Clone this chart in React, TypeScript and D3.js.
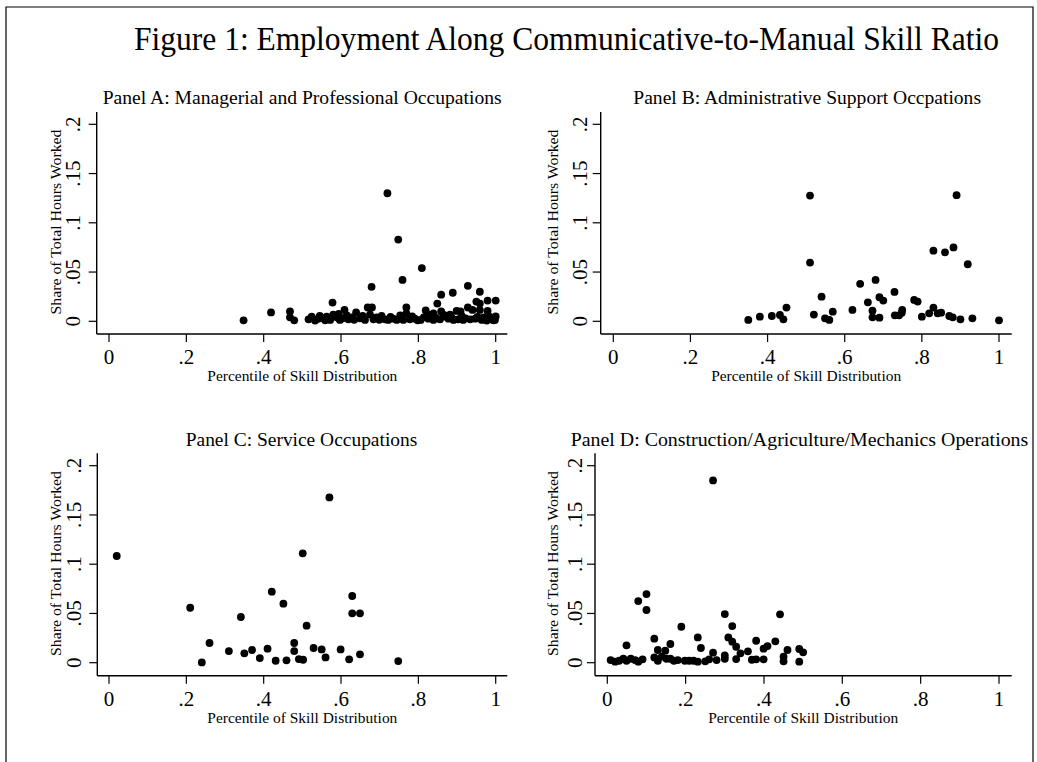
import React from "react";
import * as d3 from "d3";

const FIG_TITLE = "Figure 1: Employment Along Communicative-to-Manual Skill Ratio";
const X_TITLE = "Percentile of Skill Distribution";
const Y_TITLE = "Share of Total Hours Worked";
const X_TICKS = [0, 0.2, 0.4, 0.6, 0.8, 1];
const X_TICK_LABELS = ["0", ".2", ".4", ".6", ".8", "1"];
const Y_TICKS = [0, 0.05, 0.1, 0.15, 0.2];
const Y_TICK_LABELS = ["0", ".05", ".1", ".15", ".2"];

const PANEL_TITLES = [
  "Panel A: Managerial and Professional Occupations",
  "Panel B: Administrative Support Occpations",
  "Panel C: Service Occupations",
  "Panel D: Construction/Agriculture/Mechanics Operations",
];

// Panel A: [percentile, share]
const panelA: [number, number][] = [
  [0.348, 0.001], [0.419, 0.009], [0.468, 0.010], [0.468, 0.004], [0.479, 0.001],
  [0.516, 0.002], [0.524, 0.0047], [0.533, 0.0007], [0.541, 0.0027], [0.553, 0.0034],
  [0.563, 0.0047], [0.572, 0.0014], [0.58, 0.0068], [0.589, 0.004], [0.597, 0.0014],
  [0.578, 0.019], [0.609, 0.0115], [0.615, 0.006], [0.619, 0.002], [0.628, 0.004],
  [0.639, 0.009], [0.649, 0.003], [0.662, 0.0014], [0.669, 0.014], [0.675, 0.0068],
  [0.68, 0.014], [0.679, 0.035], [0.692, 0.004], [0.705, 0.0054], [0.714, 0.002],
  [0.72, 0.130], [0.722, 0.0014], [0.735, 0.0027], [0.744, 0.0014], [0.748, 0.083],
  [0.753, 0.006], [0.759, 0.042], [0.761, 0.0014], [0.769, 0.014], [0.769, 0.008],
  [0.778, 0.002], [0.791, 0.0027], [0.806, 0.0014], [0.809, 0.054], [0.819, 0.011],
  [0.826, 0.0027], [0.828, 0.0065], [0.839, 0.008], [0.839, 0.0014], [0.849, 0.018],
  [0.856, 0.002], [0.859, 0.027], [0.859, 0.010], [0.866, 0.0065], [0.878, 0.0027],
  [0.882, 0.0068], [0.889, 0.029], [0.891, 0.0014], [0.899, 0.0105], [0.903, 0.002],
  [0.909, 0.010], [0.916, 0.0014], [0.928, 0.036], [0.928, 0.014], [0.934, 0.002],
  [0.94, 0.0115], [0.947, 0.0027], [0.95, 0.020], [0.959, 0.030], [0.959, 0.018],
  [0.959, 0.0115], [0.964, 0.0014], [0.977, 0.0007], [0.979, 0.021], [0.979, 0.0105],
  [0.99, 0.002], [0.998, 0.0014], [1.0, 0.021], [1.0, 0.005],
  [0.545, 0.0055], [0.559, 0.001], [0.594, 0.0075], [0.604, 0.003], [0.634, 0.0015],
  [0.656, 0.0055], [0.684, 0.002], [0.699, 0.0015], [0.728, 0.0045], [0.784, 0.005],
  [0.798, 0.001], [0.814, 0.004], [0.832, 0.0045], [0.846, 0.0035], [0.871, 0.0045],
  [0.886, 0.004], [0.912, 0.0055], [0.922, 0.003], [0.953, 0.0045], [0.969, 0.004],
  [0.985, 0.0045], [0.994, 0.001],
];

const panelB: [number, number][] = [
  [0.35, 0.0014], [0.38, 0.0047], [0.411, 0.0054], [0.432, 0.0064], [0.441, 0.002],
  [0.449, 0.0139], [0.51, 0.1276], [0.51, 0.0596], [0.52, 0.0068], [0.54, 0.025],
  [0.549, 0.003], [0.56, 0.0014], [0.569, 0.0098], [0.62, 0.0115], [0.64, 0.038],
  [0.66, 0.0193], [0.672, 0.0108], [0.672, 0.004], [0.68, 0.042], [0.69, 0.0244],
  [0.70, 0.021], [0.69, 0.0037], [0.729, 0.0298], [0.73, 0.0061], [0.741, 0.0061],
  [0.749, 0.0115], [0.748, 0.0088], [0.78, 0.0217], [0.789, 0.02], [0.80, 0.0047],
  [0.819, 0.0081], [0.83, 0.0139], [0.83, 0.0717], [0.841, 0.0081], [0.85, 0.0088],
  [0.86, 0.07], [0.871, 0.0054], [0.88, 0.004], [0.882, 0.075], [0.89, 0.128],
  [0.90, 0.002], [0.919, 0.0579], [0.931, 0.003], [1.0, 0.001],
];

const panelC: [number, number][] = [
  [0.02, 0.1083], [0.21, 0.0558], [0.24, 0.0003], [0.26, 0.02], [0.31, 0.0118],
  [0.341, 0.0464], [0.35, 0.0095], [0.37, 0.0129], [0.39, 0.0047], [0.41, 0.0142],
  [0.421, 0.0721], [0.431, 0.002], [0.451, 0.0599], [0.459, 0.0024], [0.479, 0.02],
  [0.479, 0.0118], [0.491, 0.0037], [0.502, 0.003], [0.501, 0.111], [0.511, 0.0376],
  [0.529, 0.0149], [0.55, 0.0135], [0.56, 0.0054], [0.57, 0.1678], [0.599, 0.0135],
  [0.621, 0.0034], [0.629, 0.0677], [0.629, 0.0501], [0.649, 0.0501], [0.649, 0.0085],
  [0.748, 0.0017],
];

const panelD: [number, number][] = [
  [0.0085, 0.0027], [0.02, 0.001], [0.03, 0.002], [0.041, 0.004], [0.049, 0.002],
  [0.049, 0.0176], [0.06, 0.004], [0.071, 0.0027], [0.079, 0.001], [0.079, 0.0626],
  [0.09, 0.0034], [0.10, 0.0697], [0.10, 0.0535], [0.12, 0.0244], [0.12, 0.0054],
  [0.129, 0.0129], [0.129, 0.002], [0.139, 0.0061], [0.148, 0.0122], [0.151, 0.004],
  [0.161, 0.019], [0.161, 0.004], [0.17, 0.002], [0.18, 0.0027], [0.189, 0.0365],
  [0.198, 0.002], [0.209, 0.002], [0.22, 0.002], [0.231, 0.0257], [0.231, 0.001],
  [0.239, 0.0149], [0.25, 0.0014], [0.26, 0.0034], [0.27, 0.1851], [0.27, 0.0102],
  [0.279, 0.0027], [0.30, 0.0494], [0.30, 0.0074], [0.30, 0.004], [0.309, 0.0257],
  [0.319, 0.0372], [0.319, 0.0213], [0.329, 0.0162], [0.329, 0.0037], [0.34, 0.0095],
  [0.359, 0.0115], [0.369, 0.003], [0.38, 0.0223], [0.38, 0.0034], [0.399, 0.0034],
  [0.399, 0.0142], [0.409, 0.0169], [0.429, 0.0217], [0.441, 0.0491], [0.45, 0.0061],
  [0.45, 0.0014], [0.46, 0.0129], [0.49, 0.0139], [0.49, 0.001], [0.50, 0.0105],
];

const PANEL_DATA = [panelA, panelB, panelC, panelD];

// Layout (pixels)
const LAYOUTS = [
  { x0: 109, x1: 495.7, yAxisX: 96.7, xEnd: 507.3, y0: 321.3, y2: 124.3, xAxisY: 334, yTop: 112, tickLabX: 73, yTitleX: 55, titleX0: 102.7, titleX1: 501.7, titleY: 104, xTitleY: 381 },
  { x0: 613.3, x1: 999, yAxisX: 600.7, xEnd: 1011.7, y0: 321.3, y2: 124.3, xAxisY: 334, yTop: 112, tickLabX: 580, yTitleX: 552.3, titleX0: 633.3, titleX1: 981, titleY: 104, xTitleY: 381 },
  { x0: 109, x1: 495.7, yAxisX: 97.3, xEnd: 507.3, y0: 662.7, y2: 465.7, xAxisY: 675.7, yTop: 453.3, tickLabX: 74, yTitleX: 55, titleX0: 185.7, titleX1: 417.3, titleY: 446, xTitleY: 722.5 },
  { x0: 607.3, x1: 999, yAxisX: 595, xEnd: 1011.7, y0: 662.7, y2: 465.7, xAxisY: 675.7, yTop: 453.3, tickLabX: 575, yTitleX: 552.3, titleX0: 570.7, titleX1: 1028.3, titleY: 446, xTitleY: 722.5 },
];

const FONT = "'Liberation Serif', 'Times New Roman', serif";
const INK = "#000";

function Panel({ idx }: { idx: number }) {
  const L = LAYOUTS[idx];
  const data = PANEL_DATA[idx];
  const x = d3.scaleLinear().domain([0, 1]).range([L.x0, L.x1]);
  const y = d3.scaleLinear().domain([0, 0.2]).range([L.y0, L.y2]);
  const xc = (L.x0 + L.x1) / 2;
  const yc = (L.yTop + L.xAxisY) / 2 - 1;
  return (
    <g>
      <text x={L.titleX0} y={L.titleY} fontSize={18.5} fontFamily={FONT} fill={INK}
        textLength={L.titleX1 - L.titleX0} lengthAdjust="spacingAndGlyphs">{PANEL_TITLES[idx]}</text>
      <line x1={L.yAxisX} x2={L.yAxisX} y1={L.yTop} y2={L.xAxisY} stroke={INK} strokeWidth={1.4} />
      <line x1={L.yAxisX} x2={L.xEnd} y1={L.xAxisY} y2={L.xAxisY} stroke={INK} strokeWidth={1.4} />
      {X_TICKS.map((t, i) => (
        <g key={"xt" + i}>
          <line x1={x(t)} x2={x(t)} y1={L.xAxisY} y2={L.xAxisY + 8} stroke={INK} strokeWidth={1.2} />
          <text x={x(t)} y={L.xAxisY + 30} fontSize={21} fontFamily={FONT} textAnchor="middle" fill={INK}>{X_TICK_LABELS[i]}</text>
        </g>
      ))}
      {Y_TICKS.map((t, i) => (
        <g key={"yt" + i}>
          <line x1={L.yAxisX - 8} x2={L.yAxisX} y1={y(t)} y2={y(t)} stroke={INK} strokeWidth={1.2} />
          <text transform={`translate(${L.tickLabX + 7},${y(t)}) rotate(-90)`} fontSize={21} fontFamily={FONT} textAnchor="middle" fill={INK}>{Y_TICK_LABELS[i]}</text>
        </g>
      ))}
      <text transform={`translate(${L.yTitleX + 5.5},${yc}) rotate(-90)`} fontSize={15.5} fontFamily={FONT} textAnchor="middle" fill={INK}
        textLength={185} lengthAdjust="spacingAndGlyphs">{Y_TITLE}</text>
      <text x={xc} y={L.xTitleY} fontSize={14.5} fontFamily={FONT} textAnchor="middle" fill={INK}
        textLength={190} lengthAdjust="spacingAndGlyphs">{X_TITLE}</text>
      {data.map((d, i) => (
        <circle key={i} cx={x(d[0])} cy={y(d[1])} r={3.9} fill={INK} />
      ))}
    </g>
  );
}

export default function App() {
  return (
    <svg width={1037} height={762} style={{ position: "absolute", left: 0, top: 0, background: "#fff" }}>
      <rect x={0} y={0} width={1037} height={762} fill="#fff" />
      <path d="M6,762 L6,7 L1033,7 L1033,762" fill="none" stroke={INK} strokeWidth={1.2} />
      <text x={134} y={50} fontSize={33} fontFamily={FONT} fill={INK} textLength={865} lengthAdjust="spacingAndGlyphs">{FIG_TITLE}</text>
      {[0, 1, 2, 3].map((i) => <Panel key={i} idx={i} />)}
    </svg>
  );
}
